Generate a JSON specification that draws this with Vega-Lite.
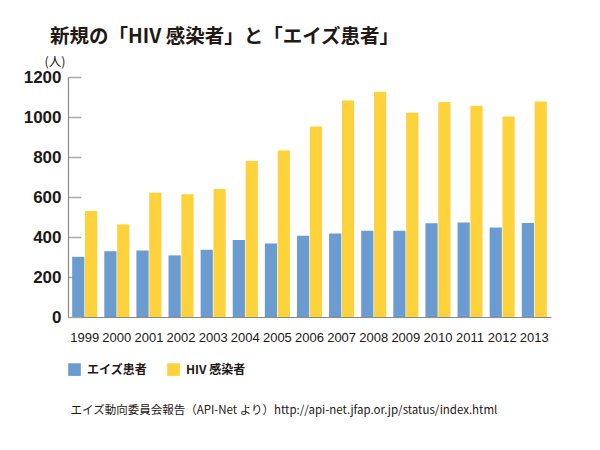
{
  "$schema": "https://vega.github.io/schema/vega-lite/v6.json",
  "width": 483,
  "height": 240,
  "autosize": "none",
  "padding": {"left": 68, "top": 77, "right": 49, "bottom": 133},
  "background": "white",
  "title": {
    "text": "新規の「HIV 感染者」と「エイズ患者」",
    "anchor": "start",
    "frame": "group",
    "dx": -18,
    "fontSize": 19.5,
    "fontWeight": "bold",
    "font": "Noto Sans CJK JP",
    "color": "#231815",
    "offset": 8
  },
  "config": {
    "view": {"stroke": null},
    "font": "Liberation Sans"
  },
  "data": {
    "values": [
      {"year": "1999", "type": "エイズ患者", "count": 301},
      {"year": "2000", "type": "エイズ患者", "count": 329},
      {"year": "2001", "type": "エイズ患者", "count": 332},
      {"year": "2002", "type": "エイズ患者", "count": 308},
      {"year": "2003", "type": "エイズ患者", "count": 336},
      {"year": "2004", "type": "エイズ患者", "count": 385},
      {"year": "2005", "type": "エイズ患者", "count": 367},
      {"year": "2006", "type": "エイズ患者", "count": 406},
      {"year": "2007", "type": "エイズ患者", "count": 418},
      {"year": "2008", "type": "エイズ患者", "count": 431},
      {"year": "2009", "type": "エイズ患者", "count": 431},
      {"year": "2010", "type": "エイズ患者", "count": 469},
      {"year": "2011", "type": "エイズ患者", "count": 473},
      {"year": "2012", "type": "エイズ患者", "count": 447},
      {"year": "2013", "type": "エイズ患者", "count": 470},
      {"year": "1999", "type": "HIV 感染者", "count": 530},
      {"year": "2000", "type": "HIV 感染者", "count": 462},
      {"year": "2001", "type": "HIV 感染者", "count": 621},
      {"year": "2002", "type": "HIV 感染者", "count": 614},
      {"year": "2003", "type": "HIV 感染者", "count": 640},
      {"year": "2004", "type": "HIV 感染者", "count": 780},
      {"year": "2005", "type": "HIV 感染者", "count": 832},
      {"year": "2006", "type": "HIV 感染者", "count": 952},
      {"year": "2007", "type": "HIV 感染者", "count": 1082},
      {"year": "2008", "type": "HIV 感染者", "count": 1126},
      {"year": "2009", "type": "HIV 感染者", "count": 1021},
      {"year": "2010", "type": "HIV 感染者", "count": 1075},
      {"year": "2011", "type": "HIV 感染者", "count": 1056},
      {"year": "2012", "type": "HIV 感染者", "count": 1002},
      {"year": "2013", "type": "HIV 感染者", "count": 1077}
    ]
  },
  "mark": {"type": "bar"},
  "encoding": {
    "x": {
      "field": "year",
      "type": "nominal",
      "scale": {"paddingInner": 0.22, "paddingOuter": 0.13},
      "axis": {
        "title": "エイズ動向委員会報告（API-Net より）http://api-net.jfap.or.jp/status/index.html",
        "titleFont": "Noto Sans CJK JP",
        "titleFontSize": 11.5,
        "titleFontWeight": "normal",
        "titleColor": "#231815",
        "titleX": 2,
        "titleY": 93,
        "titleAlign": "left",
        "titleBaseline": "middle",
        "labelAngle": 0,
        "labelFontSize": 13,
        "labelColor": "#231815",
        "labelPadding": 14,
        "ticks": false,
        "domainColor": "#888888",
        "domainWidth": 1.2
      }
    },
    "xOffset": {
      "field": "type",
      "type": "nominal",
      "sort": ["エイズ患者", "HIV 感染者"],
      "scale": {"paddingInner": 0.05}
    },
    "y": {
      "field": "count",
      "type": "quantitative",
      "scale": {"domain": [0, 1200]},
      "axis": {
        "values": [0, 200, 400, 600, 800, 1000, 1200],
        "format": "d",
        "grid": false,
        "title": "(人)",
        "titleAngle": 0,
        "titleAlign": "left",
        "titleBaseline": "middle",
        "titleX": -24,
        "titleY": -16,
        "titleFontSize": 12.5,
        "titleFontWeight": "normal",
        "titleFont": "Noto Sans CJK JP",
        "titleColor": "#231815",
        "labelFontSize": 17,
        "labelFontWeight": "bold",
        "labelColor": "#231815",
        "labelPadding": 20,
        "tickSize": -13,
        "tickColor": "#aaaaaa",
        "tickWidth": 1.5,
        "domainColor": "#888888",
        "domainWidth": 1.2
      }
    },
    "color": {
      "field": "type",
      "type": "nominal",
      "sort": ["エイズ患者", "HIV 感染者"],
      "scale": {"domain": ["エイズ患者", "HIV 感染者"], "range": ["#6a9bd1", "#fdd23b"]},
      "legend": {
        "title": null,
        "orient": "none",
        "direction": "horizontal",
        "legendX": 0,
        "legendY": 286,
        "symbolType": "square",
        "symbolSize": 160,
        "symbolStrokeWidth": 0,
        "symbolOpacity": 1,
        "labelFont": "Noto Sans CJK JP",
        "labelFontSize": 12,
        "labelFontWeight": "bold",
        "labelColor": "#231815",
        "labelOffset": 6,
        "columnPadding": 19
      }
    }
  }
}
